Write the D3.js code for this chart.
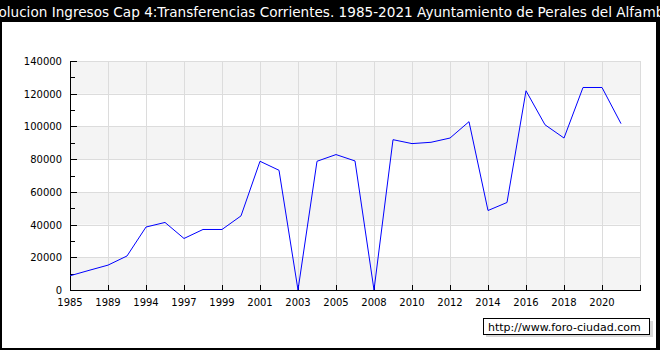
<!DOCTYPE html>
<html>
<head>
<meta charset="utf-8">
<script src="https://cdn.jsdelivr.net/npm/d3@7"></script>
<style>
  body { margin: 0; padding: 0; background: #fff; }
  svg { display: block; }
  text { font-family: "DejaVu Sans", Verdana, sans-serif; }
</style>
</head>
<body>
<svg id="chart" width="660" height="350"></svg>
<script>
// data
var years = ['1985','1987','1989','1992','1994','1996','1997','1998','1999','2000',
             '2001','2002','2003','2004','2005','2006','2008','2009','2010','2011',
             '2012','2013','2014','2015','2016','2017','2018','2019','2020','2021'];
var values = [8700, 12000, 15200, 20800, 38500, 41300, 31500, 37000, 37000, 45300,
              78700, 73200, 0, 78700, 82800, 78900, 0, 91900, 89500, 90300,
              92900, 102900, 48600, 53500, 121800, 101000, 92900, 123800, 123800, 101700];
var yTicks = [0, 20000, 40000, 60000, 80000, 100000, 120000, 140000];
var title = 'Evolucion Ingresos Cap 4:Transferencias Corrientes. 1985-2021 Ayuntamiento de Perales del Alfambra';

var svg = d3.select('#chart');
var W = 660, H = 350;

// frame
svg.append('rect').attr('x', 0).attr('y', 0).attr('width', W).attr('height', H).attr('fill', '#000');
svg.append('rect').attr('x', 2).attr('y', 22).attr('width', W - 6).attr('height', H - 24).attr('fill', '#fff');

// title is centred and wider than the picture, as in the original
svg.append('text')
	.attr('x', W / 2).attr('y', 17)
	.attr('text-anchor', 'middle')
	.attr('fill', '#fff')
	.style('font-size', '13.6px')
	.text(title);

var x = d3.scaleLinear().domain([0, 30]).range([70, 640]);
var y = d3.scaleLinear().domain([0, 140000]).range([290, 61]);

// bands
var g = svg.append('g');
for (var i = 0; i < yTicks.length - 1; i++) {
	g.append('rect')
		.attr('x', x(0)).attr('width', x(30) - x(0))
		.attr('y', y(yTicks[i + 1])).attr('height', y(yTicks[i]) - y(yTicks[i + 1]))
		.attr('fill', i % 2 == 0 ? '#f4f4f4' : '#ffffff');
}

// grid
var xTickIdx = d3.range(0, 31, 2);
g.selectAll('.vg').data(xTickIdx.slice(1)).enter().append('line')
	.attr('x1', function(d){ return Math.round(x(d)) + 0.5; })
	.attr('x2', function(d){ return Math.round(x(d)) + 0.5; })
	.attr('y1', y(140000)).attr('y2', y(0))
	.attr('stroke', '#dcdcdc');
g.selectAll('.hg').data(yTicks.slice(1)).enter().append('line')
	.attr('x1', x(0)).attr('x2', x(30))
	.attr('y1', function(d){ return Math.round(y(d)) + 0.5; })
	.attr('y2', function(d){ return Math.round(y(d)) + 0.5; })
	.attr('stroke', '#dcdcdc');

// axes
var axisG = svg.append('g');
axisG.append('line').attr('x1', 70.5).attr('x2', 70.5).attr('y1', y(140000)).attr('y2', y(0) + 0.5).attr('stroke', '#000');
axisG.append('line').attr('x1', 70).attr('x2', 641).attr('y1', 290.5).attr('y2', 290.5).attr('stroke', '#000');

var minor = d3.range(0, 140001, 10000);
axisG.selectAll('.yt').data(minor).enter().append('line')
	.attr('x1', 70).attr('x2', function(d){ return d % 20000 == 0 ? 77 : 75; })
	.attr('y1', function(d){ return Math.round(y(d)) + 0.5; })
	.attr('y2', function(d){ return Math.round(y(d)) + 0.5; })
	.attr('stroke', '#000');

axisG.selectAll('.yl').data(yTicks).enter().append('text')
	.attr('x', 62)
	.attr('y', function(d){ return y(d) + 4; })
	.attr('text-anchor', 'end')
	.style('font-size', '10px')
	.text(function(d){ return d; });

axisG.selectAll('.xt').data(xTickIdx).enter().append('line')
	.attr('x1', function(d){ return Math.round(x(d)) + 0.5; })
	.attr('x2', function(d){ return Math.round(x(d)) + 0.5; })
	.attr('y1', 285).attr('y2', 290)
	.attr('stroke', '#000');

axisG.selectAll('.xl').data(xTickIdx.slice(0, 15)).enter().append('text')
	.attr('x', function(d){ return x(d); })
	.attr('y', 306)
	.attr('text-anchor', 'middle')
	.style('font-size', '10px')
	.text(function(d){ return years[d]; });

// series
var line = d3.line()
	.x(function(d, i){ return x(i); })
	.y(function(d){ return y(d); });
svg.append('path').datum(values)
	.attr('d', line)
	.attr('fill', 'none')
	.attr('stroke', '#0000ff')
	.attr('stroke-width', 1);

// watermark
svg.append('rect').attr('x', 486).attr('y', 321).attr('width', 167).attr('height', 16).attr('fill', '#d8d8d8');
svg.append('rect').attr('x', 483.5).attr('y', 318.5).attr('width', 166).attr('height', 16).attr('fill', '#fff').attr('stroke', '#000');
svg.append('text').attr('x', 488).attr('y', 331).style('font-size', '11px').text('http://www.foro-ciudad.com');
</script>
</body>
</html>
